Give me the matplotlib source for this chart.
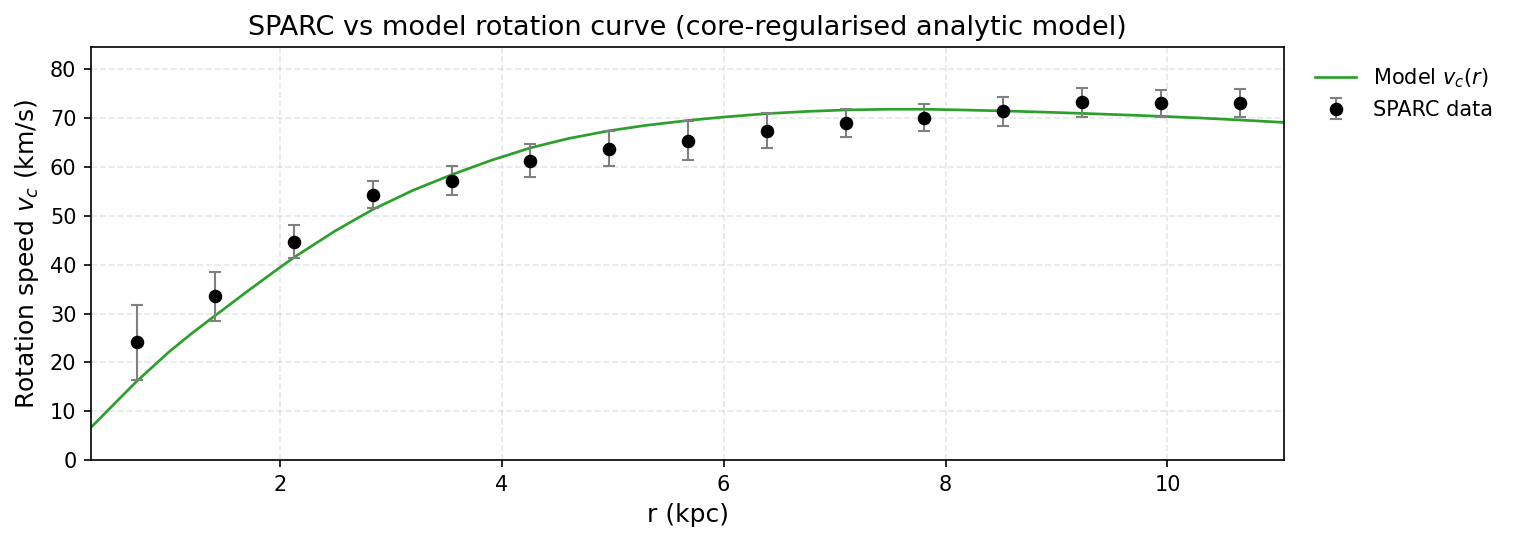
import numpy as np
import matplotlib
matplotlib.use("Agg")
import matplotlib.pyplot as plt

# SPARC data points
r_data = [0.71, 1.42, 2.13, 2.84, 3.55, 4.26, 4.97, 5.68, 6.39, 7.10, 7.81, 8.52, 9.23, 9.94, 10.65]
v_data = [24.1, 33.5, 44.7, 54.3, 57.2, 61.3, 63.7, 65.4, 67.4, 69.0, 70.1, 71.4, 73.2, 73.0, 73.0]
v_err = [7.6, 5.0, 3.4, 2.8, 2.9, 3.4, 3.6, 3.9, 3.6, 2.8, 2.8, 3.0, 2.9, 2.75, 2.85]

# model curve, sampled by eye
r_model = [0.30, 0.50, 0.71, 1.00, 1.20, 1.42, 1.70, 2.00, 2.13, 2.50, 2.84, 3.20, 3.55,
           3.90, 4.26, 4.60, 4.97, 5.30, 5.68, 6.00, 6.39, 6.75, 7.10, 7.50, 7.81,
           8.15, 8.52, 8.90, 9.23, 9.60, 9.94, 10.30, 10.65, 11.05]
v_model = [6.7, 11.3, 16.1, 22.1, 25.8, 29.6, 34.4, 39.4, 41.5, 46.9, 51.3, 55.2, 58.4,
           61.3, 63.9, 65.8, 67.4, 68.5, 69.5, 70.2, 70.9, 71.35, 71.65, 71.8, 71.8,
           71.65, 71.45, 71.2, 70.95, 70.65, 70.35, 70.0, 69.6, 69.1]


def plot_rotation_curve():
    """Plot SPARC points against the model curve."""
    fig, ax = plt.subplots(figsize=(1517 / 150, 542 / 150), dpi=150)
    fig.subplots_adjust(left=0.06, right=0.8464, top=0.913, bottom=0.151)

    ax.plot(r_model, v_model, color="#2ca02c", lw=1.3, label=r"Model $v_c(r)$")
    ax.errorbar(r_data, v_data, yerr=v_err, fmt="o", color="black", ms=5.5,
                ecolor="gray", elinewidth=1, capsize=3, label="SPARC data")

    ax.set_xlim(0.30, 11.05)
    ax.set_ylim(0, 84.5)
    ax.set_xlabel("r (kpc)", fontsize=12)
    ax.set_ylabel(r"Rotation speed $v_c$ (km/s)", fontsize=12)
    ax.set_title("SPARC vs model rotation curve (core-regularised analytic model)", fontsize=13)
    ax.grid(True, ls="--", alpha=0.3)
    ax.legend(loc="upper left", bbox_to_anchor=(1.01, 1.0), frameon=False, fontsize=10)
    fig.savefig("out.png", dpi=150)


plot_rotation_curve()
